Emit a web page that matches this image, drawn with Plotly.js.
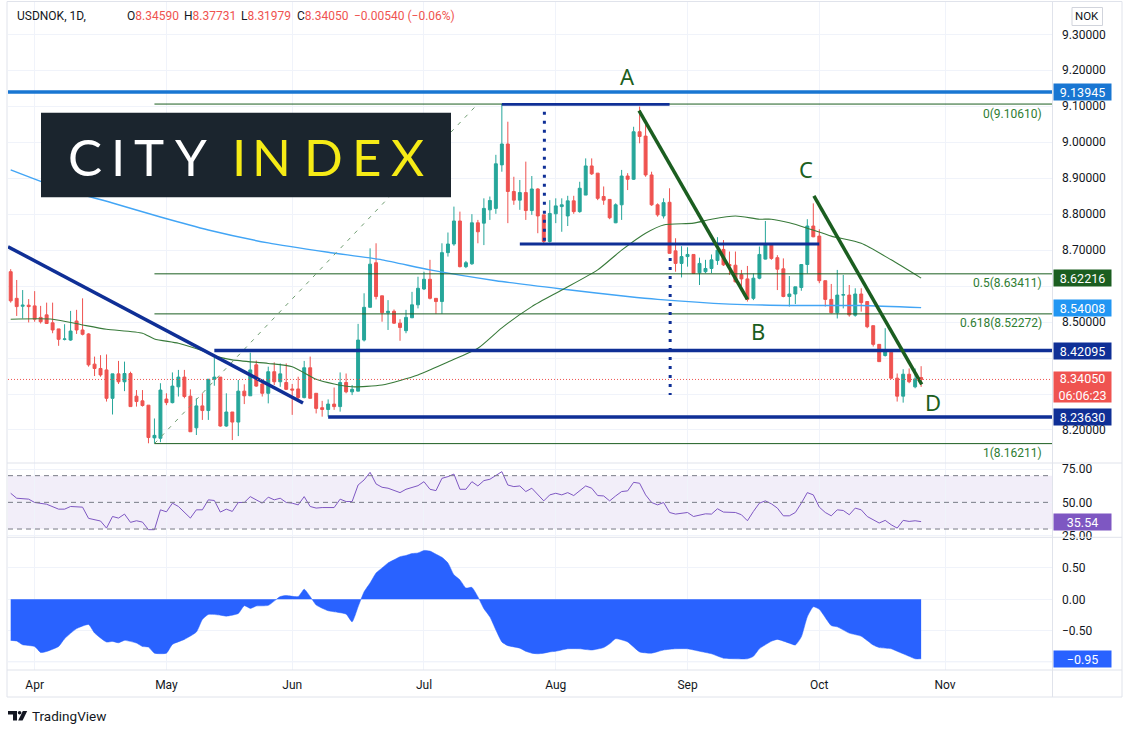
<!DOCTYPE html>
<html>
<head>
<meta charset="utf-8">
<script src="https://cdn.plot.ly/plotly-3.0.1.min.js"></script>
<style>
html,body{margin:0;padding:0;background:#fff;}
#chart{width:1132px;height:733px;}
</style>
</head>
<body>
<div id="chart"></div>
<script>
// ---------------- DATA ----------------
// Daily bars USDNOK, 26 Mar 2021 (bar 0) .. 26 Oct 2021 (bar 152), weekdays only
const barOpen = [
 8.640,8.566,8.544,8.547,8.545,8.513,8.520,8.498,8.481,8.452,
 8.450,8.503,8.478,8.467,8.383,8.371,8.367,8.288,8.356,8.334,
 8.357,8.294,8.281,8.269,8.178,8.177,8.286,8.276,8.320,8.347,
 8.294,8.206,8.267,8.254,8.341,8.347,8.211,8.250,8.222,8.308,
 8.295,8.381,8.328,8.302,8.362,8.334,8.332,8.314,8.314,8.290,
 8.373,8.302,8.262,8.257,8.272,8.265,8.332,8.306,8.308,8.450,
 8.541,8.665,8.573,8.526,8.530,8.497,8.476,8.512,8.548,8.592,
 8.619,8.566,8.557,8.693,8.717,8.781,8.654,8.662,8.776,8.775,
 8.812,8.816,8.937,8.995,8.863,8.839,8.860,8.810,8.870,8.798,
 8.724,8.801,8.821,8.795,8.837,8.807,8.853,8.934,8.914,8.849,
 8.841,8.776,8.826,8.906,8.897,9.029,9.017,8.909,8.826,8.795,
 8.833,8.698,8.663,8.682,8.688,8.637,8.640,8.649,8.671,8.702,
 8.660,8.658,8.632,8.620,8.566,8.622,8.675,8.717,8.679,8.648,
 8.571,8.578,8.596,8.660,8.767,8.739,8.615,8.563,8.526,8.575,
 8.575,8.519,8.578,8.557,8.490,8.438,8.407,8.416,8.344,8.294,
 8.355,8.320,8.34590];
const barHigh = [
 8.647,8.617,8.589,8.564,8.586,8.545,8.554,8.554,8.481,8.494,
 8.531,8.534,8.566,8.469,8.404,8.408,8.410,8.356,8.392,8.390,
 8.362,8.311,8.311,8.269,8.232,8.330,8.302,8.360,8.367,8.367,
 8.313,8.288,8.302,8.341,8.401,8.347,8.302,8.250,8.339,8.327,
 8.415,8.393,8.339,8.376,8.388,8.385,8.385,8.328,8.348,8.392,
 8.404,8.302,8.281,8.285,8.318,8.360,8.357,8.325,8.495,8.580,
 8.705,8.719,8.573,8.561,8.535,8.508,8.534,8.584,8.626,8.640,
 8.673,8.566,8.719,8.749,8.821,8.807,8.670,8.800,8.784,8.844,
 8.849,8.965,9.1061,9.057,8.904,8.895,8.946,8.906,8.872,8.798,
 8.839,8.844,8.844,8.851,8.851,8.890,8.955,8.955,8.914,8.877,
 8.841,8.830,8.923,8.914,9.043,9.099,9.048,8.918,8.830,8.844,
 8.872,8.733,8.711,8.708,8.688,8.679,8.673,8.688,8.736,8.728,
 8.696,8.696,8.645,8.656,8.635,8.710,8.781,8.719,8.686,8.677,
 8.628,8.598,8.660,8.786,8.830,8.758,8.615,8.606,8.645,8.631,
 8.603,8.594,8.594,8.557,8.490,8.438,8.483,8.416,8.357,8.369,
 8.371,8.371,8.37731];
const barLow = [
 8.554,8.517,8.510,8.499,8.501,8.496,8.495,8.469,8.434,8.449,
 8.448,8.467,8.463,8.376,8.350,8.348,8.279,8.243,8.328,8.308,
 8.265,8.265,8.265,8.163,8.16211,8.166,8.269,8.274,8.293,8.288,
 8.195,8.186,8.228,8.228,8.323,8.209,8.209,8.172,8.183,8.272,
 8.295,8.320,8.293,8.274,8.325,8.320,8.311,8.242,8.286,8.288,
 8.288,8.246,8.237,8.237,8.256,8.251,8.302,8.297,8.308,8.446,
 8.541,8.563,8.501,8.478,8.495,8.448,8.469,8.511,8.538,8.589,
 8.563,8.523,8.523,8.682,8.712,8.652,8.650,8.659,8.719,8.714,
 8.784,8.801,8.918,8.775,8.826,8.812,8.784,8.798,8.747,8.719,
 8.721,8.775,8.751,8.767,8.801,8.804,8.853,8.909,8.839,8.826,
 8.786,8.775,8.784,8.867,8.895,8.997,8.904,8.823,8.793,8.788,
 8.691,8.640,8.624,8.654,8.634,8.603,8.636,8.636,8.659,8.656,
 8.631,8.610,8.600,8.557,8.561,8.619,8.674,8.673,8.589,8.569,
 8.543,8.550,8.587,8.635,8.736,8.608,8.543,8.524,8.510,8.538,
 8.515,8.515,8.529,8.483,8.432,8.390,8.404,8.341,8.279,8.276,
 8.330,8.316,8.31979];
const barClose = [
 8.559,8.543,8.547,8.543,8.508,8.501,8.496,8.478,8.452,8.453,
 8.475,8.478,8.466,8.381,8.371,8.353,8.288,8.356,8.334,8.357,
 8.265,8.279,8.268,8.179,8.185,8.311,8.276,8.322,8.347,8.293,
 8.195,8.267,8.254,8.341,8.347,8.211,8.250,8.222,8.308,8.295,
 8.367,8.322,8.302,8.362,8.334,8.356,8.313,8.311,8.290,8.373,
 8.288,8.260,8.257,8.272,8.265,8.332,8.306,8.313,8.450,8.541,
 8.661,8.571,8.526,8.530,8.497,8.485,8.513,8.548,8.594,8.619,
 8.566,8.557,8.693,8.717,8.781,8.654,8.665,8.776,8.751,8.816,
 8.838,8.940,8.995,8.863,8.839,8.860,8.810,8.870,8.795,8.724,
 8.802,8.823,8.826,8.837,8.807,8.872,8.934,8.912,8.844,8.839,
 8.790,8.826,8.906,8.897,9.029,9.016,8.909,8.826,8.798,8.832,
 8.691,8.663,8.682,8.688,8.635,8.663,8.649,8.673,8.700,8.659,
 8.656,8.612,8.620,8.563,8.622,8.688,8.717,8.677,8.647,8.571,
 8.578,8.598,8.660,8.767,8.737,8.615,8.563,8.526,8.575,8.576,
 8.520,8.578,8.554,8.487,8.438,8.390,8.418,8.344,8.294,8.355,
 8.334,8.342,8.34050];

// moving averages (bar index, value)
const ma50Bars = [0,7,12,16,22,24,28,32,34,37,43,47,51,54,57,62,68,73,78,82,87,92,98,102,106,109,114,117,121,125,127,130,133,137,142,147,152];
const ma50Vals = [8.508,8.508,8.492,8.480,8.469,8.453,8.441,8.420,8.406,8.395,8.385,8.376,8.341,8.328,8.320,8.325,8.353,8.389,8.427,8.484,8.543,8.589,8.645,8.700,8.747,8.770,8.775,8.786,8.795,8.786,8.786,8.776,8.761,8.739,8.719,8.673,8.62216];
const ma200Bars = [0,8,17,25,33,43,53,62,70,81,92,103,108,120,131,142,152];
const ma200Vals = [8.923,8.873,8.831,8.792,8.756,8.720,8.694,8.673,8.645,8.615,8.592,8.571,8.563,8.550,8.546,8.546,8.54008];

// RSI
const rsiBars = [
 0,1,3,4,6,8,9,10,12,13,
 15,16,17,18,19,20,21,22,23,24,
 25,26,27,28,30,31,32,33,34,35,
 36,37,38,39,40,41,42,43,44,45,
 46,47,48,49,50,51,52,54,55,56,
 57,58,59,60,61,62,63,65,66,68,
 69,70,71,72,73,74,75,76,77,78,
 79,80,81,82,83,84,85,86,87,88,
 89,90,91,92,93,94,96,97,98,99,
 100,101,102,103,104,105,106,107,108,109,
 110,111,113,114,116,117,118,119,121,122,
 123,124,125,126,127,128,129,130,131,132,
 133,134,135,136,137,138,139,140,141,142,
 143,145,146,147,148,149,150,151,152];
const rsiVals = [
 56.8,53.1,52.4,49.9,48.6,44.9,44.9,46.9,46.4,38.0,
 36.0,30.7,39.4,38.2,41.2,35.0,36.2,35.2,29.5,29.5,
 44.4,42.9,49.4,46.9,38.2,44.4,44.4,51.9,51.4,42.7,
 44.9,43.2,49.9,49.9,54.3,51.9,49.4,53.9,51.9,53.1,
 49.9,49.4,48.1,54.3,46.9,45.7,46.1,46.1,52.4,50.6,
 50.6,63.0,66.8,72.5,63.8,61.3,60.6,57.3,59.8,62.5,
 65.5,59.8,58.8,68.0,69.3,71.2,59.8,59.8,65.5,62.3,
 66.3,67.3,70.5,73.0,63.0,61.8,62.3,58.1,60.6,55.6,
 51.1,55.6,56.8,55.6,57.3,55.1,62.3,60.6,55.1,54.8,
 51.1,54.8,58.1,58.6,65.0,64.3,55.6,49.9,48.1,49.9,
 42.4,41.2,42.4,39.4,41.4,41.2,45.2,42.7,42.4,40.7,
 36.2,43.2,49.4,51.1,48.9,45.7,39.9,39.9,42.4,49.4,
 57.3,55.6,46.4,42.4,39.9,44.4,43.9,40.7,45.7,44.4,
 39.4,34.5,36.5,33.2,30.7,36.5,35.7,36.2,35.54];

// Correlation coefficient
const corrBars = [
 0,1,2,4,5,6,8,9,11,13,
 14,16,17,18,19,21,22,23,24,26,
 27,29,31,32,33,35,36,38,39,40,
 41,43,45,46,48,49,50,51,53,54,
 56,57,58,59,60,61,62,63,64,65,
 66,67,68,69,70,71,72,73,74,75,
 76,77,78,79,80,81,82,83,84,85,
 86,87,88,89,90,91,93,95,97,99,
 100,101,103,105,107,109,111,113,115,117,
 119,121,123,124,125,127,128,130,131,132,
 133,134,135,137,138,140,142,144,145,147,
 148,150,151,152];
const corrVals = [
 -0.656,-0.667,-0.726,-0.753,-0.849,-0.833,-0.753,-0.629,-0.468,-0.403,
 -0.538,-0.683,-0.672,-0.694,-0.656,-0.699,-0.753,-0.763,-0.860,-0.860,
 -0.720,-0.640,-0.522,-0.323,-0.242,-0.253,-0.269,-0.226,-0.102,-0.145,
 -0.108,-0.097,0.043,0.059,0.043,0.161,0.043,-0.091,-0.183,-0.199,
 -0.237,-0.360,-0.120,0.120,0.260,0.420,0.500,0.580,0.630,0.680,
 0.700,0.730,0.740,0.780,0.770,0.720,0.670,0.580,0.390,0.310,
 0.180,0.190,0.040,-0.150,-0.280,-0.490,-0.680,-0.740,-0.760,-0.780,
 -0.830,-0.860,-0.870,-0.860,-0.840,-0.830,-0.790,-0.790,-0.810,-0.770,
 -0.710,-0.630,-0.680,-0.840,-0.860,-0.810,-0.790,-0.790,-0.830,-0.870,
 -0.940,-0.950,-0.950,-0.910,-0.790,-0.670,-0.640,-0.700,-0.730,-0.600,
 -0.280,-0.120,-0.160,-0.420,-0.440,-0.540,-0.590,-0.730,-0.770,-0.790,
 -0.830,-0.910,-0.950,-0.950];

// axis ticks
const monthBars = [4,26,47,69,91,113,135,156];
const monthLabels = ['Apr','May','Jun','Jul','Aug','Sep','Oct','Nov'];
const priceTicks = [8.2,8.3,8.4,8.5,8.6,8.7,8.8,8.9,9.0,9.1,9.2,9.3];
// labels hidden behind the price badges on the right axis
const hiddenPriceTicks = [8.3,8.4,8.6];

// chart drawings (price levels)
const fibLevels = [9.10610, 8.63411, 8.52272, 8.16211];
const fibLabels = ['0(9.10610)','0.5(8.63411)','0.618(8.52272)','1(8.16211)'];
const resistanceTop = 9.13945;
const supportLevels = [8.42095, 8.23630];
const lastPrice = 8.34050;

// ---------------- LAYOUT HELPERS ----------------
const FONT = 'Roboto, "Noto Sans", "DejaVu Sans", sans-serif';
const PL = 8, PR = 1052, PT = 2, PB = 670;
const px = x => (x - PL) / (PR - PL);
const py = y => (PB - y) / (PB - PT);
const X_MIN = -0.45, X_MAX = 173.85;
const bars = barOpen.map((_, i) => i);

const GRID = '#f0f3fa';
const FRAME = '#e0e3eb';
const NAVY = '#0f2f96';
const DKGREEN = '#1b5e20';

const traces = [
  {
    type: 'candlestick', x: bars, open: barOpen, high: barHigh, low: barLow, close: barClose,
    xaxis: 'x', yaxis: 'y', whiskerwidth: 0, hoverinfo: 'skip',
    increasing: {line: {color: '#26a69a', width: 1}, fillcolor: '#26a69a'},
    decreasing: {line: {color: '#ef5350', width: 1}, fillcolor: '#ef5350'}
  },
  {type: 'scatter', mode: 'lines', x: ma200Bars, y: ma200Vals, xaxis: 'x', yaxis: 'y',
   line: {color: '#42a5f5', width: 1.4, shape: 'spline', smoothing: 0.6}, hoverinfo: 'skip'},
  {type: 'scatter', mode: 'lines', x: ma50Bars, y: ma50Vals, xaxis: 'x', yaxis: 'y',
   line: {color: '#387a3a', width: 1.1, shape: 'spline', smoothing: 0.6}, hoverinfo: 'skip'},
  {type: 'scatter', mode: 'lines', x: rsiBars, y: rsiVals, xaxis: 'x', yaxis: 'y2',
   line: {color: '#7e57c2', width: 1}, hoverinfo: 'skip'},
  {type: 'scatter', mode: 'lines', x: corrBars, y: corrVals, xaxis: 'x', yaxis: 'y3',
   fill: 'tozeroy', fillcolor: '#2962ff',
   line: {color: '#2962ff', width: 0.5, shape: 'spline', smoothing: 0.5}, hoverinfo: 'skip'}
];

const shapes = [];
function seg(x0, y0, x1, y1, color, width, dash, xref, yref, layer) {
  shapes.push({type: 'line', xref: xref || 'x', yref: yref || 'y', x0, y0, x1, y1,
    line: {color, width, dash: dash || 'solid'}, layer: layer || 'above'});
}
// RSI band + levels
shapes.push({type: 'rect', xref: 'paper', yref: 'y2', x0: 0, x1: 1, y0: 30, y1: 70,
  fillcolor: 'rgba(126,87,194,0.1)', line: {width: 0}, layer: 'between'});
[70, 50, 30].forEach(v => seg(0, v, 1, v, '#787b86', 1, '5px,4px', 'paper', 'y2'));
// correlation -1 grid
seg(0, -1, 1, -1, GRID, 1, 'solid', 'paper', 'y3', 'below');

// main drawings
fibLevels.forEach(v => seg(24, v, X_MAX, v, DKGREEN, 1));
seg(24, 8.16211, 77.85, 9.104, '#6f9d71', 1, '4px,6px');
seg(0, resistanceTop, 1, resistanceTop, '#1976d2', 3.5, 'solid', 'paper', 'y');
seg(X_MIN, 8.7095, 48.8, 8.275, NAVY, 3.5);
seg(34, supportLevels[0], X_MAX, supportLevels[0], NAVY, 3.5);
seg(53, supportLevels[1], X_MAX, supportLevels[1], NAVY, 3.5);
seg(82, 9.105, 110, 9.105, NAVY, 2.8);
seg(85, 8.717, 135, 8.717, NAVY, 2.8);
seg(89.1, 9.085, 89.1, 8.725, NAVY, 3, '3px,6px');
seg(110.1, 8.678, 110.1, 8.297, NAVY, 3, '3px,6px');
seg(104.9, 9.0876, 123, 8.5633, DKGREEN, 3.5);
seg(134.1, 8.8505, 152.1, 8.327, DKGREEN, 3.5);
seg(0, lastPrice, 1, lastPrice, '#ef5350', 1, '1px,2px', 'paper', 'y');

// frame
function fl(x0, y0, x1, y1) {
  shapes.push({type: 'line', xref: 'paper', yref: 'paper', x0: px(x0), y0: py(y0), x1: px(x1), y1: py(y1),
    line: {color: FRAME, width: 1}, layer: 'above'});
}
fl(7, 1.5, 1122, 1.5); fl(7, 697, 1122, 697); fl(7, 1.5, 7, 697); fl(1122, 1.5, 1122, 697);
fl(1052.5, 1.5, 1052.5, 697); fl(7, 463, 1122, 463); fl(7, 537.3, 1122, 537.3); fl(7, 670, 1122, 670);

// City Index box
shapes.push({type: 'rect', xref: 'paper', yref: 'paper', x0: px(41), x1: px(451), y0: py(197.3), y1: py(112.7),
  fillcolor: '#1b252e', line: {width: 0}, layer: 'above'});
// NOK box
shapes.push({type: 'rect', xref: 'paper', yref: 'paper', x0: px(1072), x1: px(1102.5), y0: py(25.5), y1: py(7.5),
  fillcolor: '#ffffff', line: {color: '#d1d4dc', width: 1}, layer: 'above'});
// TradingView logo mark
function pathPx(pts) {
  return 'M' + pts.map(p => px(p[0]).toFixed(5) + ',' + py(p[1]).toFixed(5)).join(' L') + ' Z';
}
shapes.push({type: 'path', xref: 'paper', yref: 'paper', path: pathPx([[8,711],[17,711],[17,720.5],[13,720.5],[13,714.6],[8,714.6]]),
  fillcolor: '#131722', line: {width: 0}});
shapes.push({type: 'circle', xref: 'paper', yref: 'paper', x0: px(17.8), x1: px(21.4), y0: py(714.6), y1: py(711),
  fillcolor: '#131722', line: {width: 0}});
shapes.push({type: 'path', xref: 'paper', yref: 'paper', path: pathPx([[22.8,711],[27.2,711],[22.6,720.5],[18.2,720.5]]),
  fillcolor: '#131722', line: {width: 0}});

// ---------------- ANNOTATIONS ----------------
const ann = [];
function txt(x, y, text, opts) {
  ann.push(Object.assign({xref: 'paper', yref: 'paper', x: px(x), y: py(y), text, showarrow: false,
    xanchor: 'left', yanchor: 'middle', font: {family: FONT, size: 12, color: '#131722'}}, opts || {}));
}
// header
txt(15, 15.7, 'USDNOK, 1D,');
const R = "<span style='color:#ef5350'>";
txt(125, 15.7, 'O' + R + '8.34590</span>');
txt(182, 15.7, 'H' + R + '8.37731</span>');
txt(239, 15.7, 'L' + R + '8.31979</span>');
txt(295, 15.7, 'C' + R + '8.34050</span>');
txt(352, 15.7, R + '−0.00540 (−0.06%)</span>');
txt(1087.2, 16.5, 'NOK', {xanchor: 'center', font: {family: FONT, size: 11.5, color: '#131722'}});
txt(30, 716, 'TradingView', {font: {family: FONT, size: 13.5, color: '#131722'}});

// City Index letters
const logoLetters = ['C','I','T','Y','I','N','D','E','X'];
const logoX = [85, 118.3, 149, 191, 239, 271.5, 323.5, 366.5, 407.5];
logoLetters.forEach((ch, k) => {
  txt(logoX[k], 157, ch, {xanchor: 'center', font: {family: 'Lato, "Open Sans", sans-serif', size: 51,
    color: k < 4 ? '#ffffff' : '#f6eb16'}});
});

// fib labels
fibLevels.forEach((v, k) => {
  ann.push({xref: 'paper', yref: 'y', x: px(1044), y: v, xanchor: 'right', yanchor: 'top', yshift: -0.5,
    text: fibLabels[k], showarrow: false, font: {family: FONT, size: 12, color: '#2e7d32'}});
});
// wave labels
const waveNames = ['A','B','C','D'];
const waveBars = [102.9, 124.8, 132.8, 154.0];
const wavePrices = [9.184, 8.475, 8.925, 8.278];
waveNames.forEach((n, k) => {
  ann.push({xref: 'x', yref: 'y', x: waveBars[k], y: wavePrices[k], text: n, showarrow: false,
    xanchor: 'center', yanchor: 'middle', font: {family: '"Noto Sans", sans-serif', size: 22, color: DKGREEN}});
});
// axis badges
function badge(y, yref, text, color, h, yanchor, yshift) {
  ann.push({xref: 'paper', yref, x: 1, y, xanchor: 'left', xshift: 1, yanchor: yanchor || 'middle', yshift: yshift || 0,
    text, showarrow: false, bgcolor: color, borderpad: 0, width: 57, height: h || 16, align: 'center',
    font: {family: FONT, size: 12.5, color: '#ffffff'}});
}
badge(resistanceTop, 'y', '9.13945', '#1976d2');
badge(8.62216, 'y', '8.62216', '#1b5e20');
badge(8.54008, 'y', '8.54008', '#2196f3');
badge(supportLevels[0], 'y', '8.42095', '#0f2f96');
badge(lastPrice, 'y', '8.34050<br>06:06:23', '#ef5350', 30, 'top', 8);
badge(supportLevels[1], 'y', '8.23630', '#0f2f96');
badge(35.54, 'y2', '35.54', '#7e57c2');
badge(-0.95, 'y3', '−0.95', '#2962ff');

// ---------------- LAYOUT ----------------
const tickFont = {family: FONT, size: 12, color: '#131722'};
const priceTickText = priceTicks.map(v => hiddenPriceTicks.includes(v) ? '' : v.toFixed(5));
const layout = {
  width: 1132, height: 733,
  margin: {l: PL, r: 1132 - PR, t: PT, b: 733 - PB, pad: 0},
  paper_bgcolor: '#ffffff', plot_bgcolor: '#ffffff',
  showlegend: false, hovermode: false, dragmode: false,
  xaxis: {domain: [0, 1], range: [X_MIN, X_MAX], anchor: 'y3', tickvals: monthBars, ticktext: monthLabels,
    showgrid: true, gridcolor: GRID, gridwidth: 1, zeroline: false, showline: false, ticks: '',
    ticklabelstandoff: 6, tickfont: tickFont, rangeslider: {visible: false}, fixedrange: true},
  yaxis: {domain: [py(463), 1], range: [8.1082, 9.3898], side: 'right', anchor: 'x',
    tickvals: priceTicks, ticktext: priceTickText, showgrid: true, gridcolor: GRID, zeroline: false,
    ticks: '', ticklabelstandoff: 9, tickfont: tickFont, fixedrange: true},
  yaxis2: {domain: [py(537.3), py(463)], range: [23.8, 79.5], side: 'right', anchor: 'x',
    tickvals: [25, 50, 75], tickformat: '.2f', showgrid: true, gridcolor: GRID, zeroline: false,
    ticks: '', ticklabelstandoff: 9, tickfont: tickFont, fixedrange: true},
  yaxis3: {domain: [0, py(537.3)], range: [-1.129, 0.990], side: 'right', anchor: 'x',
    tickvals: [-1, -0.5, 0, 0.5], ticktext: ['', '−0.50', '0.00', '0.50'], showgrid: true, gridcolor: GRID,
    zeroline: false, ticks: '', ticklabelstandoff: 9, tickfont: tickFont, fixedrange: true},
  shapes, annotations: ann
};

Plotly.newPlot('chart', traces, layout, {displayModeBar: false, staticPlot: true});
</script>
</body>
</html>
